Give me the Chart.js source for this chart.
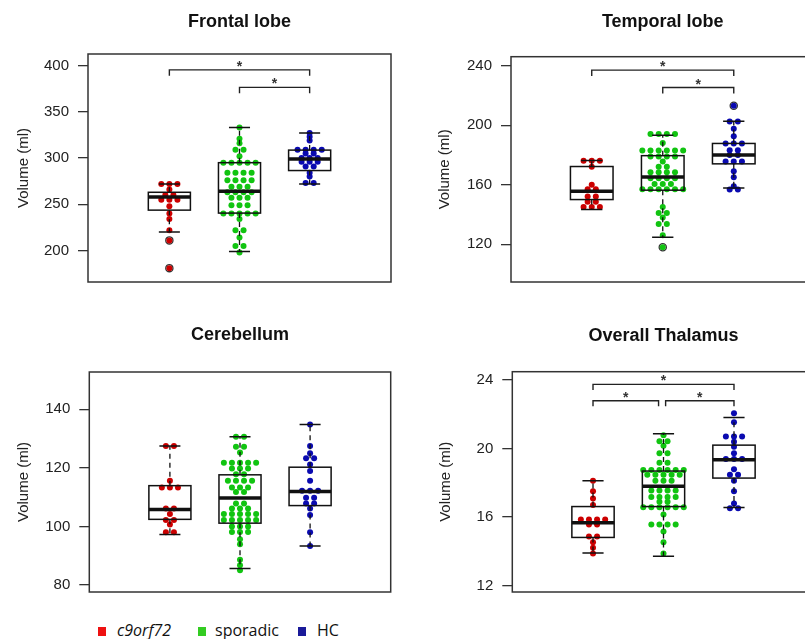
<!DOCTYPE html>
<html>
<head>
<meta charset="utf-8">
<script src="https://cdn.jsdelivr.net/npm/chart.js@4.4.1/dist/chart.umd.min.js"></script>
<style>
body { margin: 0; width: 805px; height: 639px; overflow: hidden; background: #fff; position: relative; }
.panel { position: absolute; }
#legend { position: absolute; left: 0; top: 620px; width: 400px; height: 19px; font-family: 'Open Sans', sans-serif; font-size: 16px; color: #111; }
.item { position: absolute; top: 0; white-space: nowrap; line-height: 21px; }
.sq { position: absolute; top: 7px; width: 8px; height: 9px; }
</style>
</head>
<body>
<div class="panel" style="left:0;top:0"><canvas id="frontal" width="400" height="300"></canvas></div>
<div class="panel" style="left:420px;top:0"><canvas id="temporal" width="420" height="300"></canvas></div>
<div class="panel" style="left:0;top:310px"><canvas id="cerebellum" width="400" height="300"></canvas></div>
<div class="panel" style="left:420px;top:310px"><canvas id="thalamus" width="420" height="300"></canvas></div>
<div id="legend"></div>
<script>
var groups = ['c9orf72', 'sporadic', 'HC'];
var pointColors = ['#cc0000', '#11c411', '#0a0ab0'];
var legendColors = ['#ee1111', '#33cc22', '#1a1a99'];

// Frontal lobe
var frontalC9 = [272, 272, 272, 266, 260, 260, 255, 255, 255, 248, 240, 234, 222, 211, 181];
var frontalSporadic = [333, 321, 316, 309, 309, 302, 295, 295, 295, 295, 295, 284, 284, 284, 284, 276, 276, 276, 276,
    269, 269, 269, 263, 263, 263, 263, 257, 257, 257, 249, 249, 249, 240, 240, 240, 240, 240, 234, 222, 222, 214, 205, 205, 198];
var frontalHC = [327, 323, 319, 309, 309, 309, 309, 305, 305, 300, 300, 300, 296, 296, 296, 291, 291, 284, 280, 273, 273];
var frontalBoxes = [[220, 243.7, 258, 263, 272], [199, 240.5, 264, 295, 333], [272, 286.5, 299, 308.6, 327]];
var frontalOutliers = [[211, 181], [], []];
var frontalTicks = [200, 250, 300, 350, 400];
var frontalBrackets = [[1, 3, 395.3, 388.9], [2, 3, 376.4, 370]];

// Temporal lobe
var temporalC9 = [176, 176, 176, 172, 160, 157, 157, 152, 152, 148.5, 148.5, 145, 145, 145];
var temporalSporadic = [194, 194, 194, 194, 188, 183, 183, 183, 183, 183, 183, 179, 179, 179, 179, 175.5, 172, 172,
    168.4, 168.4, 168.4, 168.4, 164.4, 164.4, 164.4, 164.4, 160.5, 160.5, 160.5, 157, 157, 157, 157, 157, 157,
    145, 141, 141, 138, 133.5, 133.5, 126, 118];
var temporalHC = [213, 202.5, 202.5, 197.6, 192.5, 187.7, 187.7, 187.7, 183.2, 183.2, 180, 180, 175.5, 175.5, 175.5,
    169, 165, 159, 156.7, 156.7];
var temporalBoxes = [[143.4, 150, 155.6, 172.2, 176.2], [124.6, 156.3, 165.1, 179.5, 193.2], [157.8, 174, 179.9, 187.7, 202.7]];
var temporalOutliers = [[], [118], [213]];
var temporalTicks = [120, 160, 200, 240];
var temporalBrackets = [[1, 3, 237, 233], [2, 3, 225.3, 221.3]];

// Cerebellum
var cerebellumC9 = [127.4, 127.4, 115.6, 113.3, 113.3, 113.3, 106.1, 106.1, 104.2, 102.2, 102.2, 100.6, 98, 98];
var cerebellumSporadic = [130.6, 130.6, 127.2, 127.2, 125.2, 121.7, 121.7, 121.7, 121.7, 121.7, 119.8, 119.8, 119.8,
    117.8, 117.8, 115.6, 115.6, 115.6, 115.6, 113.3, 113.3, 113.3, 111.7, 111.7, 107.8, 107.8, 106.1, 106.1, 106.1,
    104.2, 104.2, 104.2, 104.2, 104.2, 102.2, 102.2, 102.2, 102.2, 102.2, 100, 100, 100, 98.1, 98.1, 98.1,
    95.6, 93.9, 88.6, 86.7, 85];
var cerebellumHC = [134.8, 127.4, 125, 123.3, 123.3, 121.1, 118.9, 115.6, 112.2, 112.2, 112.2, 109.8, 109.8,
    107.8, 107.8, 106.1, 103.9, 98, 93.3];
var cerebellumBoxes = [[97.2, 102.4, 105.8, 113.9, 127.4], [85.6, 101.1, 109.7, 117.6, 130.6], [93.3, 107.1, 111.9, 120.2, 134.8]];
var cerebellumOutliers = [[], [], []];
var cerebellumTicks = [80, 100, 120, 140];
var cerebellumBrackets = [];

// Overall Thalamus
var thalamusC9 = [18.12, 17.5, 17.08, 16.7, 15.85, 15.85, 15.85, 15.85, 15.57, 15.57, 14.87, 14.87, 14.53, 14.21, 13.87];
var thalamusSporadic = [20.76, 20.42, 20.42, 20.16, 19.72, 19.72, 19.16, 19.16, 18.74, 18.74, 18.74, 18.74, 18.74, 18.74,
    18.46, 18.46, 18.46, 18.46, 18.46, 18.12, 18.12, 18.12, 17.55, 17.55, 17.55, 17.55, 17.17, 17.17, 17.17, 17.17,
    16.89, 16.89, 16.57, 16.57, 16.57, 16.57, 16.57, 16.57, 16.14, 15.57, 15.57, 15.57, 15.57, 15.15, 14.53, 13.87];
var thalamusHC = [22.05, 21.52, 20.7, 20.7, 20.7, 20.38, 20.1, 19.72, 19.38, 19.38, 19.38, 18.78, 18.46, 18.46,
    18.12, 17.5, 16.79, 16.51, 16.51];
var thalamusBoxes = [[13.9, 14.81, 15.66, 16.61, 18.12], [13.72, 16.61, 17.8, 18.68, 20.86], [16.55, 18.27, 19.34, 20.19, 21.8]];
var thalamusOutliers = [[], [], []];
var thalamusTicks = [12, 16, 20, 24];
var thalamusBrackets = [[1, 3, 23.73, 23.4], [1, 1.93, 22.78, 22.46], [2.03, 3, 22.78, 22.46]];

// beeswarm style spread: points with the same value are laid out side by side
function swarm(vals, pos) {
    var counts = {}, seen = {};
    vals.forEach(function (v) { counts[v] = (counts[v] || 0) + 1; });
    return vals.map(function (v) {
        var k = seen[v] || 0;
        seen[v] = k + 1;
        return { x: pos + (k - (counts[v] - 1) / 2) * 0.115, y: v };
    });
}

var decorPlugin = {
    id: 'decor',
    afterDatasetsDraw: function (chart) {
        var o = chart.options.plugins.decor;
        var ctx = chart.ctx, xs = chart.scales.x, ys = chart.scales.y;
        ctx.save();
        ctx.strokeStyle = '#111';
        o.boxes.forEach(function (b, i) {
            var cx = xs.getPixelForValue(i + 1);
            var hw = xs.getPixelForValue(i + 1.3) - cx;
            var cw = hw / 2;
            var lo = ys.getPixelForValue(b[0]), q1 = ys.getPixelForValue(b[1]), md = ys.getPixelForValue(b[2]);
            var q3 = ys.getPixelForValue(b[3]), hi = ys.getPixelForValue(b[4]);
            ctx.lineWidth = 1.3;
            ctx.setLineDash([5, 4]);
            ctx.beginPath();
            ctx.moveTo(cx, q3); ctx.lineTo(cx, hi);
            ctx.moveTo(cx, q1); ctx.lineTo(cx, lo);
            ctx.stroke();
            ctx.setLineDash([]);
            ctx.lineWidth = 1.5;
            ctx.beginPath();
            ctx.moveTo(cx - cw, hi); ctx.lineTo(cx + cw, hi);
            ctx.moveTo(cx - cw, lo); ctx.lineTo(cx + cw, lo);
            ctx.stroke();
            ctx.strokeRect(cx - hw, q3, 2 * hw, q1 - q3);
            ctx.lineWidth = 3.5;
            ctx.beginPath();
            ctx.moveTo(cx - hw, md); ctx.lineTo(cx + hw, md);
            ctx.stroke();
        });

        ctx.lineWidth = 1.4;
        ctx.strokeStyle = '#222';
        ctx.fillStyle = '#333';
        ctx.font = 'bold 14px "Liberation Sans", Arial, sans-serif';
        ctx.textAlign = 'center';
        ctx.textBaseline = 'alphabetic';
        o.brackets.forEach(function (b) {
            var x1 = xs.getPixelForValue(b[0]), x2 = xs.getPixelForValue(b[1]);
            var yb = ys.getPixelForValue(b[2]), yt = ys.getPixelForValue(b[3]);
            ctx.beginPath();
            ctx.moveTo(x1, yt); ctx.lineTo(x1, yb); ctx.lineTo(x2, yb); ctx.lineTo(x2, yt);
            ctx.stroke();
            ctx.fillText('*', (x1 + x2) / 2, yb + 1);
        });
        ctx.restore();
    },
    afterDraw: function (chart) {
        var o = chart.options.plugins.decor;
        var ctx = chart.ctx, a = chart.chartArea;
        ctx.save();
        ctx.strokeStyle = '#333';
        ctx.lineWidth = 1.5;
        ctx.strokeRect(a.left, a.top, a.right - a.left, a.bottom - a.top);
        ctx.fillStyle = '#111';
        ctx.font = 'bold 18px "Liberation Sans", Arial, sans-serif';
        ctx.textAlign = 'center';
        ctx.textBaseline = 'alphabetic';
        ctx.fillText(o.title, chart.scales.x.getPixelForValue(2), o.titleY);
        ctx.restore();
    }
};

function makePanel(id, title, values, boxes, outliers, ticks, brackets, lay) {
    var datasets = values.map(function (vals, i) {
        return {
            label: groups[i],
            data: swarm(vals, i + 1),
            pointRadius: 3,
            pointBorderWidth: 0,
            pointBackgroundColor: pointColors[i],
            borderColor: pointColors[i]
        };
    });
    var ring = [];
    outliers.forEach(function (list, i) {
        list.forEach(function (v) { ring.push({ x: i + 1, y: v }); });
    });
    datasets.push({
        label: 'outliers',
        data: ring,
        pointRadius: 3.6,
        pointBorderWidth: 1.3,
        pointBackgroundColor: 'rgba(0,0,0,0)',
        borderColor: '#333'
    });

    new Chart(document.getElementById(id), {
        type: 'scatter',
        data: { datasets: datasets },
        options: {
            responsive: false,
            animation: false,
            events: [],
            layout: { padding: lay.pad },
            plugins: {
                legend: { display: false },
                tooltip: { enabled: false },
                decor: { title: title, titleY: lay.titleY, boxes: boxes, brackets: brackets }
            },
            scales: {
                x: { type: 'linear', display: false, min: lay.x[0], max: lay.x[1] },
                y: {
                    min: lay.y[0],
                    max: lay.y[1],
                    afterFit: function (s) { s.width = lay.axisW; },
                    afterBuildTicks: function (s) { s.ticks = ticks.map(function (v) { return { value: v }; }); },
                    grid: { drawOnChartArea: false, drawTicks: true, tickLength: 10, color: '#333', lineWidth: 1.3 },
                    border: { display: false },
                    ticks: { padding: 9, color: '#222', font: { size: 15, family: '"Liberation Sans", Arial, sans-serif' } },
                    title: {
                        display: true,
                        text: 'Volume (ml)',
                        color: '#222',
                        font: { size: 15, family: '"Liberation Sans", Arial, sans-serif' },
                        padding: { top: lay.labelPad, bottom: 0 }
                    }
                }
            }
        },
        plugins: [decorPlugin]
    });
}

makePanel('frontal', 'Frontal lobe', [frontalC9, frontalSporadic, frontalHC], frontalBoxes, frontalOutliers,
    frontalTicks, frontalBrackets,
    { pad: { left: 0, top: 54, right: 9, bottom: 16 }, axisW: 88, x: [-0.16, 4.16], y: [166, 412.5], titleY: 27, labelPad: 14.5 });

makePanel('temporal', 'Temporal lobe', [temporalC9, temporalSporadic, temporalHC], temporalBoxes, temporalOutliers,
    temporalTicks, temporalBrackets,
    { pad: { left: 0, top: 56.7, right: 25.5, bottom: 15 }, axisW: 91, x: [-0.137, 4.137], y: [94.6, 246], titleY: 27, labelPad: 16 });

makePanel('cerebellum', 'Cerebellum', [cerebellumC9, cerebellumSporadic, cerebellumHC], cerebellumBoxes, cerebellumOutliers,
    cerebellumTicks, cerebellumBrackets,
    { pad: { left: 0, top: 62, right: 9.3, bottom: 12.7 }, axisW: 89.3, x: [-0.15, 4.15], y: [77.6, 152.7], titleY: 30, labelPad: 15 });

makePanel('thalamus', 'Overall Thalamus', [thalamusC9, thalamusSporadic, thalamusHC], thalamusBoxes, thalamusOutliers,
    thalamusTicks, thalamusBrackets,
    { pad: { left: 0, top: 61.7, right: 25.3, bottom: 11.7 }, axisW: 92.3, x: [-0.145, 4.145], y: [11.63, 24.47], titleY: 31, labelPad: 16.5 });

// legend below the cerebellum panel
var legendLeft = [98, 198, 298];
var legend = document.getElementById('legend');
groups.forEach(function (g, i) {
    var item = document.createElement('div');
    item.className = 'item';
    item.style.left = legendLeft[i] + 'px';
    var sq = document.createElement('span');
    sq.className = 'sq';
    sq.style.background = legendColors[i];
    var txt = document.createElement('span');
    txt.textContent = g;
    txt.style.marginLeft = (i === 1 ? 17 : 19) + 'px';
    if (i === 0) txt.style.fontStyle = 'italic';
    item.appendChild(sq);
    item.appendChild(txt);
    legend.appendChild(item);
});
</script>
</body>
</html>
